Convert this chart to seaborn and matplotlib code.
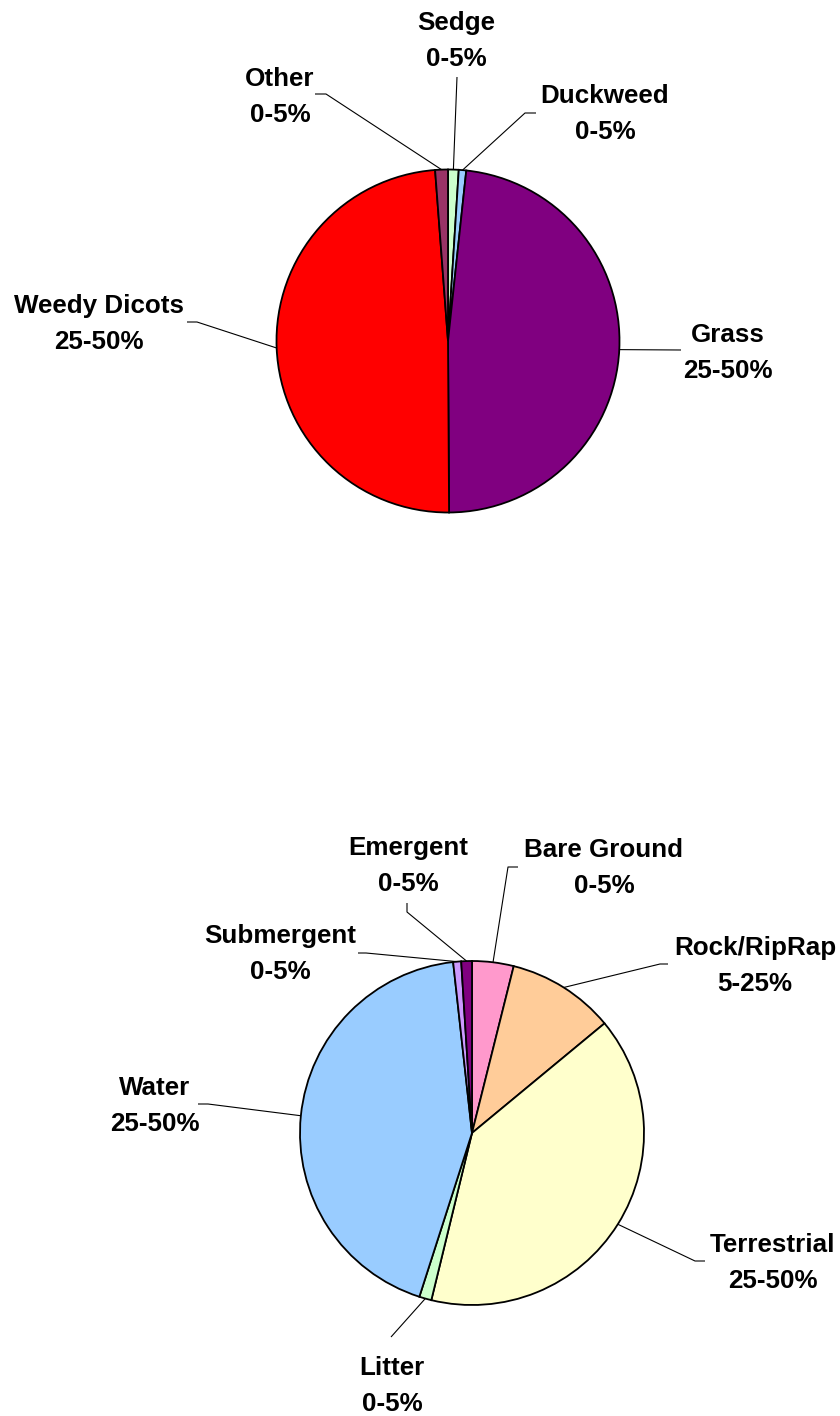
import numpy as np
import seaborn as sns
import matplotlib.pyplot as plt

# Plant cover (top pie)
top_labels = ['Sedge', 'Duckweed', 'Grass', 'Weedy Dicots', 'Other']
top_values = [1.0, 0.7, 48.2, 48.9, 1.2]
top_ranges = ['0-5%', '0-5%', '25-50%', '25-50%', '0-5%']
top_colors = ['#CCFFCC', '#99CCFF', '#800080', '#FF0000', '#993366']

# Ground cover (bottom pie)
bottom_labels = ['Bare Ground', 'Rock/RipRap', 'Terrestrial', 'Litter', 'Water', 'Submergent', 'Emergent']
bottom_values = [3.9, 10.1, 39.8, 1.15, 43.3, 0.75, 1.0]
bottom_ranges = ['0-5%', '5-25%', '25-50%', '0-5%', '25-50%', '0-5%', '0-5%']
bottom_colors = ['#FF99CC', '#FFCC99', '#FFFFCC', '#CCFFCC', '#99CCFF', '#CC99FF', '#800080']

sns.set_theme(style='white')
plt.rcParams['font.family'] = ['Liberation Sans', 'DejaVu Sans']

W, H = 840, 1416
fig = plt.figure(figsize=(W / 100, H / 100), dpi=100)
ax = fig.add_axes([0, 0, 1, 1])


def Y(y):
    # image pixel row -> data y
    return H - y


# label layout in image pixels: (x centre, first baseline, leader waypoints from label side)
top_layout = {
    'Sedge': (456, 30, [(457, 77)]),
    'Duckweed': (605, 103, [(536, 113), (525, 113)]),
    'Grass': (728, 342, [(681, 350)]),
    'Weedy Dicots': (99, 313, [(187, 322), (197, 322)]),
    'Other': (280, 86, [(315, 94), (326, 94)]),
}
bottom_layout = {
    'Bare Ground': (604, 857, [(518, 867), (508, 867)]),
    'Rock/RipRap': (755, 955, [(668, 964), (660, 964)]),
    'Terrestrial': (773, 1252, [(705, 1261), (695, 1261)]),
    'Litter': (392, 1375, [(391, 1337)]),
    'Water': (155, 1095, [(198, 1104), (208, 1104)]),
    'Submergent': (280, 943, [(358, 953), (366, 953)]),
    'Emergent': (408, 855, [(407, 903), (407, 912)]),
}


def draw_pie(values, labels, ranges, colors, center, radius, layout):
    cx, cy = center[0], Y(center[1])
    wedges, _ = ax.pie(values, colors=colors, startangle=90, counterclock=False,
                       radius=radius, center=(cx, cy),
                       wedgeprops=dict(edgecolor='black', linewidth=1.3))
    for w, lab, rng in zip(wedges, labels, ranges):
        tx, tb, pts = layout[lab]
        mid = np.deg2rad((w.theta1 + w.theta2) / 2)
        ex, ey = cx + radius * np.cos(mid), cy + radius * np.sin(mid)
        xs = [p[0] for p in pts] + [ex]
        ys = [Y(p[1]) for p in pts] + [ey]
        ax.plot(xs, ys, color='black', lw=0.8, solid_capstyle='butt')
        ax.text(tx, Y(tb), lab, ha='center', va='baseline', fontsize=18.7, fontweight='bold', color='black')
        ax.text(tx, Y(tb + 36), rng, ha='center', va='baseline', fontsize=18.7, fontweight='bold', color='black')


draw_pie(top_values, top_labels, top_ranges, top_colors, (448, 341), 171.5, top_layout)
draw_pie(bottom_values, bottom_labels, bottom_ranges, bottom_colors, (472, 1133), 172, bottom_layout)

ax.set_xlim(0, W)
ax.set_ylim(0, H)
ax.set_aspect('equal')
ax.axis('off')

fig.savefig('out.png', dpi=100, facecolor='white')
